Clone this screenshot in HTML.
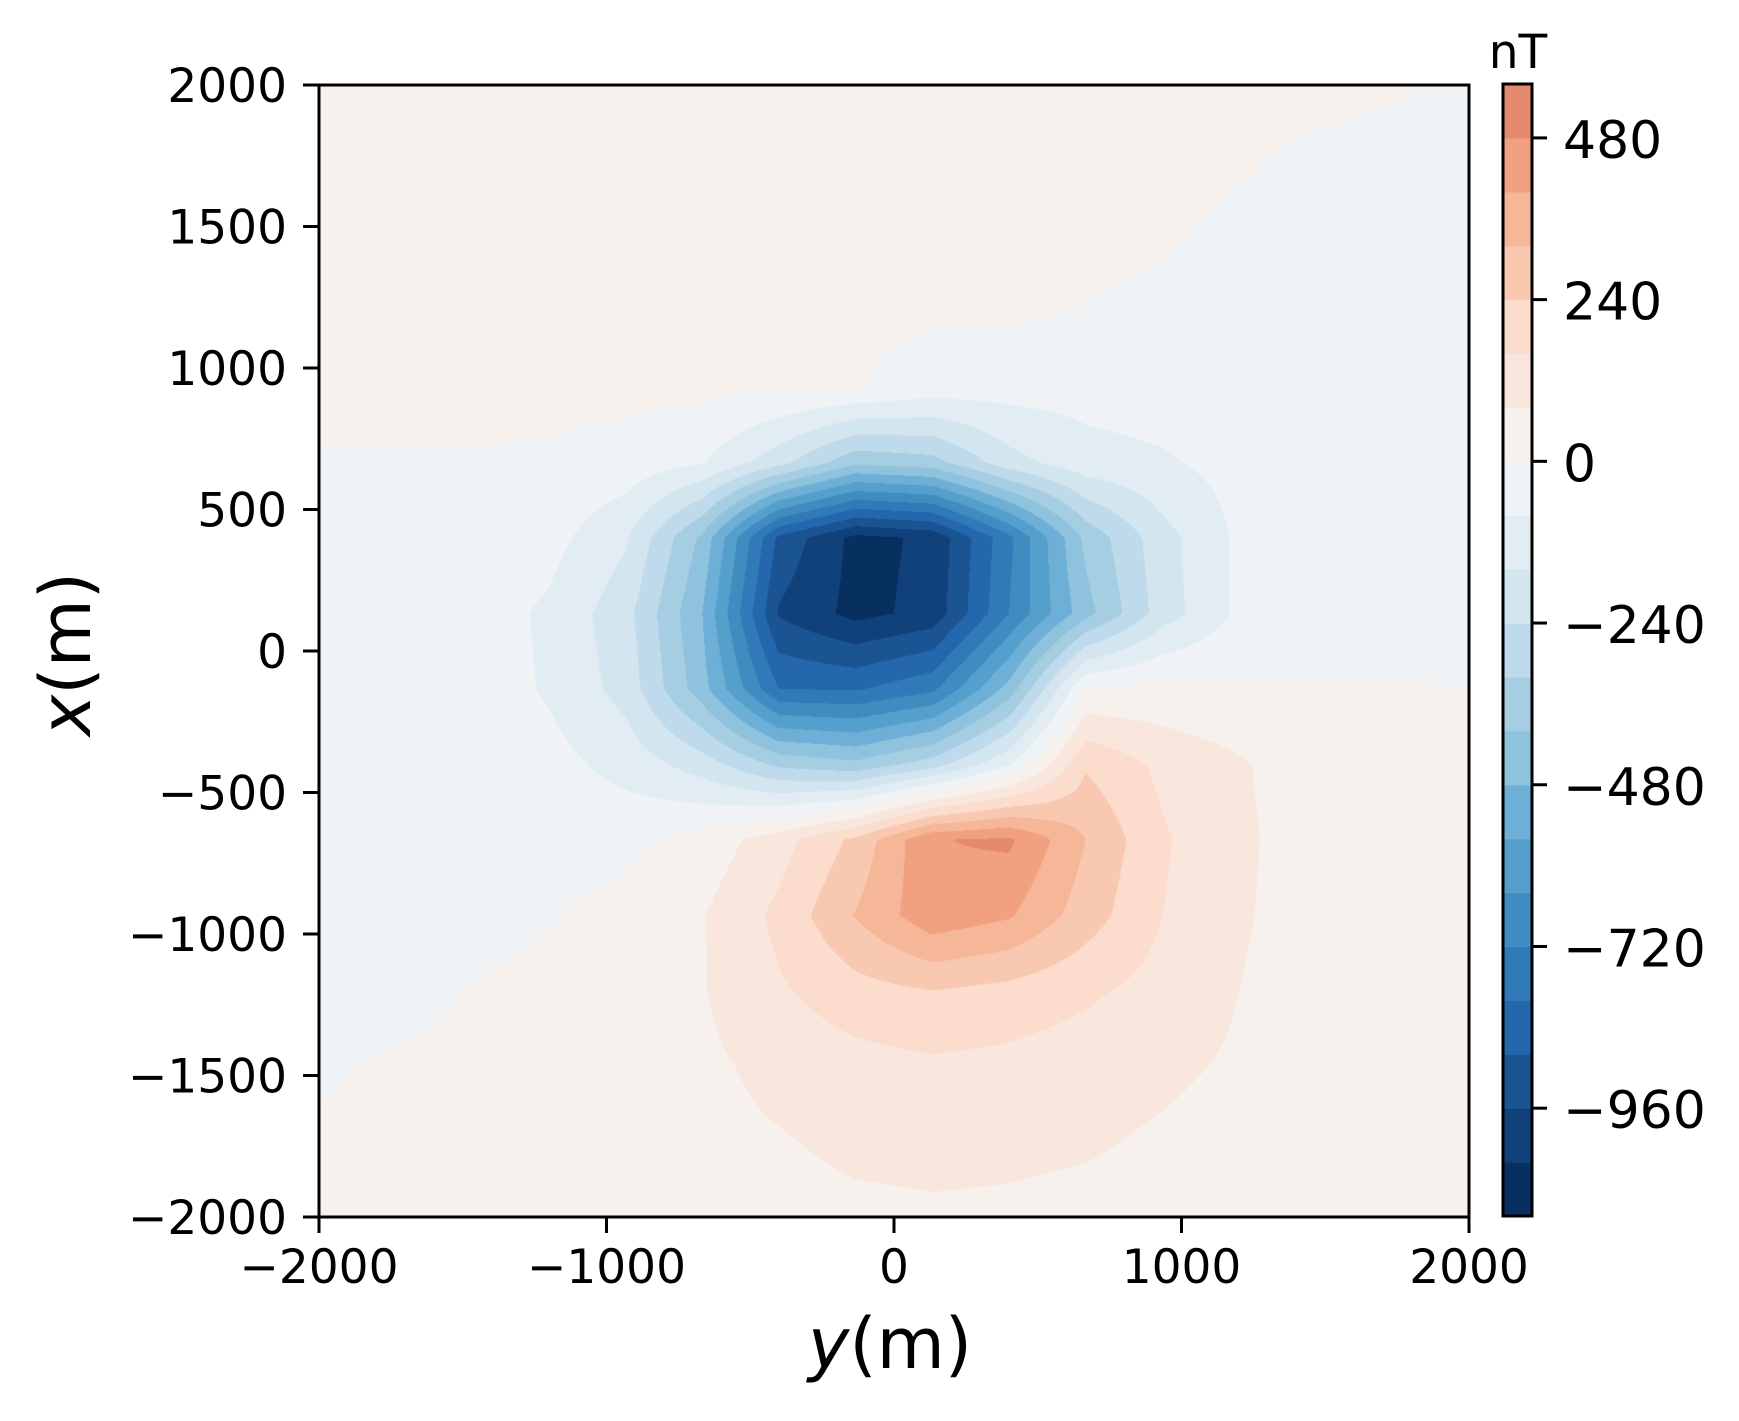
<!DOCTYPE html>
<html><head><meta charset="utf-8"><title>Magnetic anomaly</title>
<style>
html,body{margin:0;padding:0;background:#fff;}
#wrap{position:relative;width:1739px;height:1416px;overflow:hidden;}
#field{position:absolute;left:319px;top:85px;}
#ov{position:absolute;left:0;top:0;}
text{font-family:"DejaVu Sans","Liberation Sans",sans-serif;fill:#000;}
</style></head>
<body>
<div id="wrap">
<canvas id="field" width="1150" height="1132"></canvas>
<svg id="ov" width="1739" height="1416"></svg>
</div>
<script>
// grid coordinates (m)
const gridY = [-2000,-1733,-1467,-1200,-933,-667,-400,-133,133,400,667,933,1200,1467,1733,2000]; // horizontal
const gridX = [2000,1733,1467,1200,933,667,400,133,-133,-400,-667,-933,-1200,-1467,-1733,-2000]; // vertical, top->bottom
// field values (nT), rows follow gridX, columns follow gridY
const fieldValues = [
[30,30,30,30,30,30,30,30,30,30,30,25,20,15,5,-5],
[30,30,30,30,30,30,30,30,30,25,20,15,5,-10,-15,-15],
[30,30,30,30,30,30,30,25,20,15,10,5,-10,-15,-20,-20],
[25,25,25,25,25,25,20,15,10,10,-2,-10,-15,-20,-20,-20],
[20,20,20,20,20,20,10,5,-35,-45,-50,-40,-30,-25,-20,-20],
[-5,-5,-5,-10,-30,-75,-210,-380,-350,-190,-110,-90,-50,-25,-20,-20],
[-25,-25,-30,-50,-150,-420,-900,-1065,-1025,-740,-380,-190,-65,-35,-30,-25],
[-30,-30,-35,-95,-210,-480,-970,-1065,-1015,-720,-430,-200,-65,-35,-30,-25],
[-30,-30,-30,-90,-190,-450,-800,-810,-740,-450,5,20,10,5,3,0],
[-30,-30,-30,-50,-110,-200,-340,-380,-280,-90,230,140,90,30,20,15],
[-30,-30,-30,-35,-20,30,125,260,475,495,320,170,95,40,25,15],
[-30,-30,-30,-5,25,75,180,325,455,410,280,160,90,40,25,15],
[-30,-30,5,20,30,75,150,210,240,215,175,130,80,40,20,15],
[-10,10,20,25,45,65,100,130,145,135,115,95,70,35,20,15],
[10,20,25,35,45,60,75,95,100,95,88,70,50,35,25,15],
[15,20,25,30,35,45,55,65,70,68,60,50,40,30,25,15]
];
const levels = [-1120,-1040,-960,-880,-800,-720,-640,-560,-480,-400,-320,-240,-160,-80,0,80,160,240,320,400,480,560];
const bandColors = ["#072f5f","#10417b","#1a5493","#2467ac","#307ab7","#408bc0","#549fcb","#6dafd6","#8fc2dd","#a6cee3","#bfdaea","#d3e6f0","#e2edf3","#eff3f6","#f6f1ed","#f9e6dc","#fbdccd","#f9c8b0","#f6b698","#f1a17f","#e58a6e"];
const xTicks = [-2000,-1000,0,1000,2000];
const yTicks = [-2000,-1500,-1000,-500,0,500,1000,1500,2000];
const cbTicks = [-960,-720,-480,-240,0,240,480];

const AX = {left:319, top:85, w:1150, h:1132};
const CB = {left:1503, top:84, w:29, h:1132};
const yRange = [-2000,2000], xRange = [-2000,2000];
function sx(y){return AX.left + (y - yRange[0])/(yRange[1]-yRange[0])*AX.w;}
function sy(x){return AX.top + (xRange[1] - x)/(xRange[1]-xRange[0])*AX.h;}
function cbY(v){return CB.top + (levels[levels.length-1]-v)/(levels[levels.length-1]-levels[0])*CB.h;}
function hexRGB(h){return [parseInt(h.substr(1,2),16),parseInt(h.substr(3,2),16),parseInt(h.substr(5,2),16)];}
const bandRGB = bandColors.map(hexRGB);
function bandOf(v){
  for(let i=0;i<levels.length-1;i++){ if(v < levels[i+1]) return Math.max(0,i); }
  return levels.length-2;
}
function sample(yv,xv){
  const n = gridY.length, m = gridX.length;
  let fc = (yv - gridY[0])/(gridY[n-1]-gridY[0])*(n-1);
  let fr = (gridX[0] - xv)/(gridX[0]-gridX[m-1])*(m-1);
  fc = Math.min(Math.max(fc,0),n-1.0001); fr = Math.min(Math.max(fr,0),m-1.0001);
  const c=Math.floor(fc), r=Math.floor(fr), tc=fc-c, tr=fr-r;
  const a=fieldValues[r][c], b=fieldValues[r][c+1], d=fieldValues[r+1][c], e=fieldValues[r+1][c+1];
  return a*(1-tc)*(1-tr)+b*tc*(1-tr)+d*(1-tc)*tr+e*tc*tr;
}
// draw field
(function(){
  const cv=document.getElementById('field'); const ctx=cv.getContext('2d');
  const img=ctx.createImageData(AX.w,AX.h);
  for(let py=0;py<AX.h;py++){
    const xv = xRange[1] - (py+0.5)/AX.h*(xRange[1]-xRange[0]);
    for(let px=0;px<AX.w;px++){
      const yv = yRange[0] + (px+0.5)/AX.w*(yRange[1]-yRange[0]);
      const col = bandRGB[bandOf(sample(yv,xv))];
      const k=(py*AX.w+px)*4;
      img.data[k]=col[0];img.data[k+1]=col[1];img.data[k+2]=col[2];img.data[k+3]=255;
    }
  }
  ctx.putImageData(img,0,0);
})();
// overlay
const NS='http://www.w3.org/2000/svg';
const svg=document.getElementById('ov');
function mk(tag,attrs,parent){const e=document.createElementNS(NS,tag);for(const k in attrs)e.setAttribute(k,attrs[k]);(parent||svg).appendChild(e);return e;}
function fmt(v){return v<0?'\u2212'+Math.abs(v):String(v);}

// colorbar bands
const cbG=mk('g',{});


for(let i=0;i<levels.length-1;i++){
  const y1=cbY(levels[i+1]), y0=cbY(levels[i]);
  const r=mk('rect',{x:CB.left,y:y1,width:CB.w,height:(y0-y1)+0.6,fill:bandColors[i]},cbG);
  
  
}
const cbFrame=mk('rect',{x:CB.left,y:CB.top,width:CB.w,height:CB.h,fill:'none',stroke:'#000','stroke-width':3});


cbTicks.forEach(v=>{
  const y=cbY(v);
  const t=mk('line',{x1:CB.left+CB.w,x2:CB.left+CB.w+15,y1:y,y2:y,stroke:'#000','stroke-width':3});
  
  
  const l=mk('text',{x:1563,y:y+20,'font-size':52});
  l.textContent=fmt(v);
  
  
});
const unit=mk('text',{x:1518,y:68,'font-size':47,'text-anchor':'middle'});
unit.textContent='nT';



// axes frame
const frame=mk('rect',{x:AX.left,y:AX.top,width:AX.w,height:AX.h,fill:'none',stroke:'#000','stroke-width':3});


xTicks.forEach(v=>{
  const x=sx(v);
  const t=mk('line',{x1:x,x2:x,y1:AX.top+AX.h,y2:AX.top+AX.h+16,stroke:'#000','stroke-width':3});
  
  
  const l=mk('text',{x:x,y:1283,'font-size':47,'text-anchor':'middle'});
  l.textContent=fmt(v);
  
  
});
yTicks.forEach(v=>{
  const y=sy(v);
  const t=mk('line',{x1:AX.left-16,x2:AX.left,y1:y,y2:y,stroke:'#000','stroke-width':3});
  
  
  const l=mk('text',{x:287,y:y+17,'font-size':47,'text-anchor':'end'});
  l.textContent=fmt(v);
  
  
});
</script>
<div style="position:absolute;left:0;top:0;width:1739px;height:1416px;pointer-events:none;">
<svg width="1739" height="1416">
<text x="890" y="1368" font-size="70" text-anchor="middle" style="font-family:'DejaVu Sans','Liberation Sans',sans-serif"><tspan font-style="italic">y</tspan>(m)</text>
<text transform="translate(90,654) rotate(-90)" x="0" y="0" font-size="70" text-anchor="middle" style="font-family:'DejaVu Sans','Liberation Sans',sans-serif"><tspan font-style="italic">x</tspan>(m)</text>
</svg>
</div>
</body></html>
